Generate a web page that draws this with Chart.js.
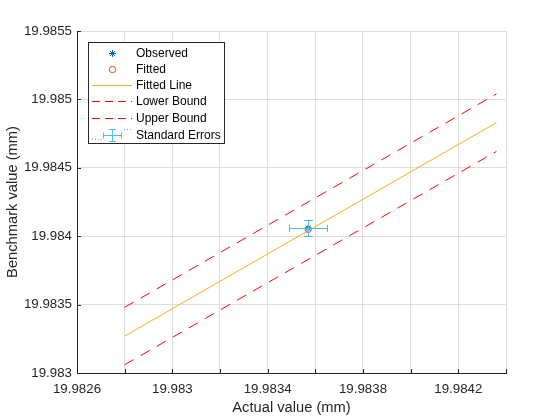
<!DOCTYPE html>
<html>
<head>
<meta charset="utf-8">
<script src="https://cdn.jsdelivr.net/npm/chart.js@4.4.1/dist/chart.umd.min.js"></script>
<style>
  html, body { margin:0; padding:0; background:#fff; }
  canvas { display:block; }
</style>
</head>
<body>
<canvas id="chart" width="560" height="420"></canvas>
<script>
const xTicks = [19.9826, 19.9828, 19.9830, 19.9832, 19.9834, 19.9836, 19.9838, 19.9840, 19.9842, 19.9844];
const xTickLabels = ["19.9826", "", "19.983", "", "19.9834", "", "19.9838", "", "19.9842", ""];
const yTicks = [19.9830, 19.9835, 19.9840, 19.9845, 19.9850, 19.9855];
const yTickLabels = ["19.983", "19.9835", "19.984", "19.9845", "19.985", "19.9855"];

const observedX = [19.98357];
const observedY = [19.98406];
const fittedX = [19.98357];
const fittedY = [19.98405];
const lineX = [19.9828, 19.98436];
const fitLineY = [19.98327, 19.98483];
const lowerY = [19.98306, 19.98462];
const upperY = [19.98348, 19.98504];
const errX = [0.000079];
const errY = [0.000055];

const FONT = '"Liberation Sans", Arial, Helvetica, sans-serif';
const INK = "#262626";
const BLUE = "#0072BD", ORANGE = "#D95319", YELLOW = "#EDB120", RED = "#FF0000", CYAN = "#4DBEEE";

const pts = (xs, ys) => xs.map((x, i) => ({ x, y: ys[i] }));

// error bars drawn from the data through the chart scales
const errorBars = {
  id: "errorBars",
  afterDatasetsDraw(chart) {
    const { ctx, scales: { x, y } } = chart;
    ctx.save();
    ctx.strokeStyle = CYAN;
    ctx.lineWidth = 1;
    observedX.forEach((v, i) => {
      const cx = x.getPixelForValue(v), cy = y.getPixelForValue(observedY[i]);
      const x0 = x.getPixelForValue(v - errX[i]), x1 = x.getPixelForValue(v + errX[i]);
      const y0 = y.getPixelForValue(observedY[i] - errY[i]), y1 = y.getPixelForValue(observedY[i] + errY[i]);
      const r = n => Math.round(n) + 0.5;
      ctx.beginPath();
      ctx.moveTo(r(x0), r(cy)); ctx.lineTo(r(x1), r(cy));
      ctx.moveTo(r(x0), r(cy) - 3.5); ctx.lineTo(r(x0), r(cy) + 3.5);
      ctx.moveTo(r(x1), r(cy) - 3.5); ctx.lineTo(r(x1), r(cy) + 3.5);
      ctx.moveTo(r(cx), r(y0)); ctx.lineTo(r(cx), r(y1));
      ctx.moveTo(r(cx) - 4.5, r(y0)); ctx.lineTo(r(cx) + 4.5, r(y0));
      ctx.moveTo(r(cx) - 4.5, r(y1)); ctx.lineTo(r(cx) + 4.5, r(y1));
      ctx.stroke();
    });
    ctx.restore();
  }
};

// inward tick marks, matlab style
const inwardTicks = {
  id: "inwardTicks",
  afterDraw(chart) {
    const { ctx, chartArea: a, scales: { x, y } } = chart;
    ctx.save();
    ctx.strokeStyle = INK;
    ctx.lineWidth = 1;
    ctx.beginPath();
    xTicks.forEach(v => {
      const px = Math.round(x.getPixelForValue(v)) + 0.5;
      ctx.moveTo(px, Math.round(a.bottom)); ctx.lineTo(px, Math.round(a.bottom) - 4);
    });
    yTicks.forEach(v => {
      const py = Math.round(y.getPixelForValue(v)) + 0.5;
      ctx.moveTo(Math.round(a.left), py); ctx.lineTo(Math.round(a.left) + 4, py);
    });
    ctx.stroke();
    ctx.restore();
  }
};

function star(ctx, cx, cy, r) {
  ctx.beginPath();
  ctx.moveTo(cx - r, cy); ctx.lineTo(cx + r, cy);
  ctx.moveTo(cx, cy - r); ctx.lineTo(cx, cy + r);
  const d = r * 0.7071;
  ctx.moveTo(cx - d, cy - d); ctx.lineTo(cx + d, cy + d);
  ctx.moveTo(cx - d, cy + d); ctx.lineTo(cx + d, cy - d);
  ctx.stroke();
}

// boxed legend in the upper left of the axes
const boxLegend = {
  id: "boxLegend",
  afterDraw(chart) {
    const { ctx } = chart;
    const L = 88.5, T = 42.5, W = 136, H = 101;
    ctx.save();
    ctx.fillStyle = "#fff";
    ctx.fillRect(L, T, W, H);
    ctx.strokeStyle = INK;
    ctx.lineWidth = 1;
    ctx.strokeRect(L, T, W, H);

    const rows = [53.5, 69.5, 85.5, 101.5, 118.5, 135.5];
    const names = chart.data.datasets.map(d => d.label).concat(["Standard Errors"]);
    const sx0 = 92, sx1 = 132, sc = 112.5;
    ctx.lineWidth = 1;

    ctx.strokeStyle = BLUE; star(ctx, sc, rows[0], 3.5);
    ctx.strokeStyle = ORANGE; ctx.beginPath(); ctx.arc(sc, rows[1], 3.2, 0, Math.PI * 2); ctx.stroke();
    ctx.strokeStyle = YELLOW; ctx.beginPath(); ctx.moveTo(sx0, rows[2]); ctx.lineTo(sx1, rows[2]); ctx.stroke();
    ctx.strokeStyle = RED; ctx.setLineDash([8, 5]);
    [3, 4].forEach(k => { ctx.beginPath(); ctx.moveTo(sx0, rows[k]); ctx.lineTo(sx1, rows[k]); ctx.stroke(); });
    ctx.setLineDash([]);

    const ey = rows[5];
    ctx.strokeStyle = CYAN;
    ctx.beginPath();
    ctx.moveTo(103, ey); ctx.lineTo(122, ey);
    ctx.moveTo(103.5, ey - 3); ctx.lineTo(103.5, ey + 3);
    ctx.moveTo(121.5, ey - 3); ctx.lineTo(121.5, ey + 3);
    ctx.moveTo(112.5, ey - 6); ctx.lineTo(112.5, ey + 6);
    ctx.moveTo(109, ey - 6); ctx.lineTo(116, ey - 6);
    ctx.moveTo(109, ey + 6); ctx.lineTo(116, ey + 6);
    ctx.stroke();
    ctx.setLineDash([1, 2]);
    ctx.beginPath();
    ctx.moveTo(92, ey + 4); ctx.lineTo(102, ey + 4);
    ctx.moveTo(124, ey - 6); ctx.lineTo(131, ey - 6);
    ctx.stroke();
    ctx.setLineDash([]);

    ctx.fillStyle = "#000";
    ctx.font = "12px " + FONT;
    ctx.textBaseline = "middle";
    ctx.textAlign = "left";
    names.forEach((n, i) => ctx.fillText(n, 136, rows[i]));
    ctx.restore();
  }
};

new Chart(document.getElementById("chart"), {
  type: "scatter",
  data: {
    datasets: [
      { label: "Observed", data: pts(observedX, observedY), pointStyle: "star",
        pointRadius: 3.5, borderColor: BLUE, backgroundColor: BLUE, borderWidth: 1 },
      { label: "Fitted", data: pts(fittedX, fittedY), pointStyle: "circle",
        pointRadius: 3.2, borderColor: ORANGE, backgroundColor: "rgba(0,0,0,0)", borderWidth: 1 },
      { label: "Fitted Line", data: pts(lineX, fitLineY), showLine: true, pointRadius: 0,
        borderColor: YELLOW, borderWidth: 1 },
      { label: "Lower Bound", data: pts(lineX, lowerY), showLine: true, pointRadius: 0,
        borderColor: RED, borderWidth: 1, borderDash: [10.5, 8] },
      { label: "Upper Bound", data: pts(lineX, upperY), showLine: true, pointRadius: 0,
        borderColor: RED, borderWidth: 1, borderDash: [10.5, 8] }
    ]
  },
  options: {
    responsive: false,
    animation: false,
    devicePixelRatio: 1,
    layout: { padding: { top: 31, right: 54, left: 0, bottom: 0 } },
    plugins: { legend: { display: false }, tooltip: { enabled: false } },
    scales: {
      x: {
        type: "linear", min: 19.9826, max: 19.9844,
        afterBuildTicks: s => { s.ticks = xTicks.map(v => ({ value: v })); },
        afterFit: s => { s.height = 47; },
        ticks: { autoSkip: false, maxRotation: 0, padding: 8, color: INK,
          font: { family: FONT, size: 13.3 }, callback: (v, i) => xTickLabels[i] },
        grid: { color: "#dfdfdf", drawTicks: false },
        border: { color: INK },
        title: { display: true, text: "Actual value (mm)", color: INK,
          font: { family: FONT, size: 14.7 }, padding: { top: 0, bottom: 3 } }
      },
      y: {
        type: "linear", min: 19.983, max: 19.9855,
        afterBuildTicks: s => { s.ticks = yTicks.map(v => ({ value: v })); },
        afterFit: s => { s.width = 77; },
        ticks: { autoSkip: false, padding: 5, color: INK,
          font: { family: FONT, size: 13.3 }, callback: (v, i) => yTickLabels[i] },
        grid: { color: "#dfdfdf", drawTicks: false },
        border: { color: INK },
        title: { display: true, text: "Benchmark value (mm)", color: INK,
          font: { family: FONT, size: 14.7 }, padding: { top: 4, bottom: 0 } }
      }
    }
  },
  plugins: [errorBars, inwardTicks, boxLegend]
});
</script>
</body>
</html>
